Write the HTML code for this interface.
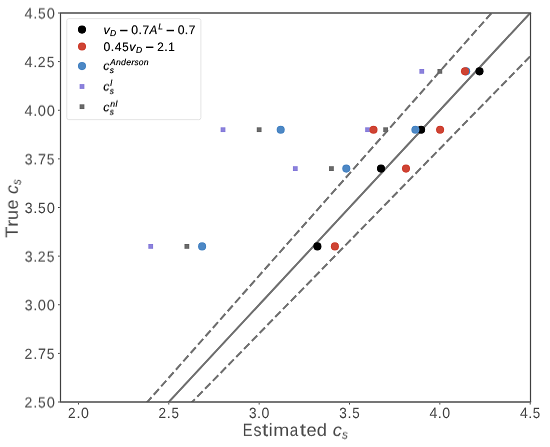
<!DOCTYPE html>
<html><head><meta charset="utf-8"><style>
html,body{margin:0;padding:0;background:#fff;width:550px;height:447px;overflow:hidden}
svg{display:block}
text{font-family:"Liberation Sans", sans-serif;text-rendering:geometricPrecision}
</style></head><body>
<svg width="550" height="447" viewBox="0 0 550 447">
<rect width="550" height="447" fill="#fff"/>
<defs><filter id="fy1" filterUnits="userSpaceOnUse" x="0" y="0" width="550" height="447" color-interpolation-filters="sRGB"><feOffset in="SourceGraphic" dy="1" result="b"/><feComposite in="SourceGraphic" in2="b" operator="arithmetic" k1="0" k2="0.875" k3="0.125" k4="0"/></filter>
<filter id="fy2" filterUnits="userSpaceOnUse" x="0" y="0" width="550" height="447" color-interpolation-filters="sRGB"><feOffset in="SourceGraphic" dy="1" result="b"/><feComposite in="SourceGraphic" in2="b" operator="arithmetic" k1="0" k2="0.750" k3="0.250" k4="0"/></filter>
<filter id="fy3" filterUnits="userSpaceOnUse" x="0" y="0" width="550" height="447" color-interpolation-filters="sRGB"><feOffset in="SourceGraphic" dy="1" result="b"/><feComposite in="SourceGraphic" in2="b" operator="arithmetic" k1="0" k2="0.625" k3="0.375" k4="0"/></filter>
<filter id="fy4" filterUnits="userSpaceOnUse" x="0" y="0" width="550" height="447" color-interpolation-filters="sRGB"><feOffset in="SourceGraphic" dy="1" result="b"/><feComposite in="SourceGraphic" in2="b" operator="arithmetic" k1="0" k2="0.500" k3="0.500" k4="0"/></filter>
<filter id="fy5" filterUnits="userSpaceOnUse" x="0" y="0" width="550" height="447" color-interpolation-filters="sRGB"><feOffset in="SourceGraphic" dy="1" result="b"/><feComposite in="SourceGraphic" in2="b" operator="arithmetic" k1="0" k2="0.375" k3="0.625" k4="0"/></filter>
<filter id="fy6" filterUnits="userSpaceOnUse" x="0" y="0" width="550" height="447" color-interpolation-filters="sRGB"><feOffset in="SourceGraphic" dy="1" result="b"/><feComposite in="SourceGraphic" in2="b" operator="arithmetic" k1="0" k2="0.250" k3="0.750" k4="0"/></filter>
<filter id="fy7" filterUnits="userSpaceOnUse" x="0" y="0" width="550" height="447" color-interpolation-filters="sRGB"><feOffset in="SourceGraphic" dy="1" result="b"/><feComposite in="SourceGraphic" in2="b" operator="arithmetic" k1="0" k2="0.125" k3="0.875" k4="0"/></filter><filter id="gid" filterUnits="userSpaceOnUse" x="0" y="0" width="550" height="447" color-interpolation-filters="sRGB"><feConvolveMatrix order="3" kernelMatrix="0 -0.08 0 -0.08 1.32 -0.08 0 -0.08 0" divisor="1" edgeMode="duplicate" preserveAlpha="true"/></filter></defs>
<g filter="url(#gid)"><rect width="550" height="447" fill="#fff"/>
<defs><clipPath id="ax"><rect x="60.38" y="13.00" width="469.82" height="389.00"/></clipPath></defs>
<g clip-path="url(#ax)" fill="none" stroke="#777777" stroke-width="2.103">
<line x1="78.45" y1="499.25" x2="620.55" y2="-84.25"/>
<line x1="-289.48" y1="895.70" x2="597.00" y2="-106.19" stroke-dasharray="7.783 3.365"/>
<line x1="-270.41" y1="875.02" x2="664.93" y2="-81.41" stroke-dasharray="7.783 3.365"/>
</g>
<rect x="148.33" y="244.00" width="4.8" height="4.8" fill="#8C82DC"/>
<rect x="220.61" y="127.30" width="4.8" height="4.8" fill="#8C82DC"/>
<rect x="292.89" y="166.20" width="4.8" height="4.8" fill="#8C82DC"/>
<rect x="365.17" y="127.30" width="4.8" height="4.8" fill="#8C82DC"/>
<rect x="419.38" y="68.95" width="4.8" height="4.8" fill="#8C82DC"/>
<rect x="184.47" y="244.00" width="4.8" height="4.8" fill="#6B6B6B"/>
<rect x="256.75" y="127.30" width="4.8" height="4.8" fill="#6B6B6B"/>
<rect x="329.03" y="166.20" width="4.8" height="4.8" fill="#6B6B6B"/>
<rect x="383.24" y="127.30" width="4.8" height="4.8" fill="#6B6B6B"/>
<rect x="437.45" y="68.95" width="4.8" height="4.8" fill="#6B6B6B"/>
<circle cx="317.40" cy="246.40" r="4.05" fill="#000000"/>
<circle cx="381.00" cy="168.60" r="4.05" fill="#000000"/>
<circle cx="421.10" cy="129.70" r="4.05" fill="#000000"/>
<circle cx="479.50" cy="71.35" r="4.05" fill="#000000"/>
<circle cx="202.10" cy="246.40" r="4.05" fill="#4D88C5"/>
<circle cx="280.70" cy="129.70" r="4.05" fill="#4D88C5"/>
<circle cx="346.30" cy="168.60" r="4.05" fill="#4D88C5"/>
<circle cx="415.40" cy="129.70" r="4.05" fill="#4D88C5"/>
<circle cx="466.20" cy="71.35" r="4.05" fill="#4D88C5"/>
<circle cx="334.90" cy="246.40" r="4.05" fill="#CF4434"/>
<circle cx="406.00" cy="168.60" r="4.05" fill="#CF4434"/>
<circle cx="373.50" cy="129.70" r="4.05" fill="#CF4434"/>
<circle cx="440.10" cy="129.70" r="4.05" fill="#CF4434"/>
<circle cx="465.00" cy="71.35" r="4.05" fill="#CF4434"/>
<path d="M60.5 13.0V402.0M530.5 13.0V402.0" stroke="#555555" stroke-width="1.3" fill="none"/>
<path d="M59.85 13.0H531.15M59.85 402.0H531.15" stroke="#555555" stroke-width="1.5" fill="none"/>
<line x1="78.45" y1="402.75" x2="78.45" y2="404.55" stroke="#555555" stroke-width="1.0"/>
<line x1="168.80" y1="402.75" x2="168.80" y2="404.55" stroke="#555555" stroke-width="1.0"/>
<line x1="259.15" y1="402.75" x2="259.15" y2="404.55" stroke="#555555" stroke-width="1.0"/>
<line x1="349.50" y1="402.75" x2="349.50" y2="404.55" stroke="#555555" stroke-width="1.0"/>
<line x1="439.85" y1="402.75" x2="439.85" y2="404.55" stroke="#555555" stroke-width="1.0"/>
<line x1="530.20" y1="402.75" x2="530.20" y2="404.55" stroke="#555555" stroke-width="1.0"/>
<line x1="58.05" y1="402.00" x2="59.85" y2="402.00" stroke="#555555" stroke-width="1.0"/>
<line x1="58.05" y1="353.38" x2="59.85" y2="353.38" stroke="#555555" stroke-width="1.0"/>
<line x1="58.05" y1="304.75" x2="59.85" y2="304.75" stroke="#555555" stroke-width="1.0"/>
<line x1="58.05" y1="256.12" x2="59.85" y2="256.12" stroke="#555555" stroke-width="1.0"/>
<line x1="58.05" y1="207.50" x2="59.85" y2="207.50" stroke="#555555" stroke-width="1.0"/>
<line x1="58.05" y1="158.88" x2="59.85" y2="158.88" stroke="#555555" stroke-width="1.0"/>
<line x1="58.05" y1="110.25" x2="59.85" y2="110.25" stroke="#555555" stroke-width="1.0"/>
<line x1="58.05" y1="61.62" x2="59.85" y2="61.62" stroke="#555555" stroke-width="1.0"/>
<line x1="58.05" y1="13.00" x2="59.85" y2="13.00" stroke="#555555" stroke-width="1.0"/>
<g fill="#555555" stroke="#555555" stroke-width="0.05">
<text x="68.08" y="418" font-size="14.79" textLength="7.58" lengthAdjust="spacingAndGlyphs">2</text>
<text x="76.42" y="418" font-size="14.72" textLength="4.02" lengthAdjust="spacingAndGlyphs">.</text>
<text x="80.88" y="418" font-size="14.87" textLength="7.88" lengthAdjust="spacingAndGlyphs">0</text>
<text x="158.43" y="418" font-size="14.79" textLength="7.58" lengthAdjust="spacingAndGlyphs">2</text>
<text x="166.77" y="418" font-size="14.72" textLength="4.02" lengthAdjust="spacingAndGlyphs">.</text>
<text x="171.44" y="418" font-size="14.83" textLength="7.42" lengthAdjust="spacingAndGlyphs">5</text>
<text x="248.99" y="418" font-size="14.87" textLength="7.53" lengthAdjust="spacingAndGlyphs">3</text>
<text x="257.12" y="418" font-size="14.72" textLength="4.02" lengthAdjust="spacingAndGlyphs">.</text>
<text x="261.58" y="418" font-size="14.87" textLength="7.88" lengthAdjust="spacingAndGlyphs">0</text>
<text x="339.34" y="418" font-size="14.87" textLength="7.53" lengthAdjust="spacingAndGlyphs">3</text>
<text x="347.47" y="418" font-size="14.72" textLength="4.02" lengthAdjust="spacingAndGlyphs">.</text>
<text x="352.14" y="418" font-size="14.83" textLength="7.42" lengthAdjust="spacingAndGlyphs">5</text>
<text x="429.55" y="418" font-size="14.75" textLength="7.82" lengthAdjust="spacingAndGlyphs">4</text>
<text x="437.82" y="418" font-size="14.72" textLength="4.02" lengthAdjust="spacingAndGlyphs">.</text>
<text x="442.28" y="418" font-size="14.87" textLength="7.88" lengthAdjust="spacingAndGlyphs">0</text>
<text x="519.90" y="418" font-size="14.75" textLength="7.82" lengthAdjust="spacingAndGlyphs">4</text>
<text x="528.17" y="418" font-size="14.72" textLength="4.02" lengthAdjust="spacingAndGlyphs">.</text>
<text x="532.84" y="418" font-size="14.83" textLength="7.42" lengthAdjust="spacingAndGlyphs">5</text>
<text x="24.54" y="407" font-size="14.79" textLength="7.85" lengthAdjust="spacingAndGlyphs" filter="url(#fy4)">2</text>
<text x="33.18" y="407" font-size="14.72" textLength="4.16" lengthAdjust="spacingAndGlyphs" filter="url(#fy4)">.</text>
<text x="38.01" y="407" font-size="14.83" textLength="7.68" lengthAdjust="spacingAndGlyphs" filter="url(#fy4)">5</text>
<text x="46.64" y="407" font-size="14.87" textLength="8.17" lengthAdjust="spacingAndGlyphs" filter="url(#fy4)">0</text>
<text x="24.54" y="358" font-size="14.79" textLength="7.85" lengthAdjust="spacingAndGlyphs" filter="url(#fy7)">2</text>
<text x="33.18" y="358" font-size="14.72" textLength="4.16" lengthAdjust="spacingAndGlyphs" filter="url(#fy7)">.</text>
<text x="37.88" y="358" font-size="14.75" textLength="7.98" lengthAdjust="spacingAndGlyphs" filter="url(#fy7)">7</text>
<text x="46.85" y="358" font-size="14.83" textLength="7.68" lengthAdjust="spacingAndGlyphs" filter="url(#fy7)">5</text>
<text x="24.75" y="310" font-size="14.87" textLength="7.81" lengthAdjust="spacingAndGlyphs" filter="url(#fy2)">3</text>
<text x="33.18" y="310" font-size="14.72" textLength="4.16" lengthAdjust="spacingAndGlyphs" filter="url(#fy2)">.</text>
<text x="37.80" y="310" font-size="14.87" textLength="8.17" lengthAdjust="spacingAndGlyphs" filter="url(#fy2)">0</text>
<text x="46.64" y="310" font-size="14.87" textLength="8.17" lengthAdjust="spacingAndGlyphs" filter="url(#fy2)">0</text>
<text x="24.75" y="261" font-size="14.87" textLength="7.81" lengthAdjust="spacingAndGlyphs" filter="url(#fy5)">3</text>
<text x="33.18" y="261" font-size="14.72" textLength="4.16" lengthAdjust="spacingAndGlyphs" filter="url(#fy5)">.</text>
<text x="37.79" y="261" font-size="14.79" textLength="7.85" lengthAdjust="spacingAndGlyphs" filter="url(#fy5)">2</text>
<text x="46.85" y="261" font-size="14.83" textLength="7.68" lengthAdjust="spacingAndGlyphs" filter="url(#fy5)">5</text>
<text x="24.75" y="213" font-size="14.87" textLength="7.81" lengthAdjust="spacingAndGlyphs">3</text>
<text x="33.18" y="213" font-size="14.72" textLength="4.16" lengthAdjust="spacingAndGlyphs">.</text>
<text x="38.01" y="213" font-size="14.83" textLength="7.68" lengthAdjust="spacingAndGlyphs">5</text>
<text x="46.64" y="213" font-size="14.87" textLength="8.17" lengthAdjust="spacingAndGlyphs">0</text>
<text x="24.75" y="164" font-size="14.87" textLength="7.81" lengthAdjust="spacingAndGlyphs" filter="url(#fy3)">3</text>
<text x="33.18" y="164" font-size="14.72" textLength="4.16" lengthAdjust="spacingAndGlyphs" filter="url(#fy3)">.</text>
<text x="37.88" y="164" font-size="14.75" textLength="7.98" lengthAdjust="spacingAndGlyphs" filter="url(#fy3)">7</text>
<text x="46.85" y="164" font-size="14.83" textLength="7.68" lengthAdjust="spacingAndGlyphs" filter="url(#fy3)">5</text>
<text x="24.60" y="115" font-size="14.75" textLength="8.11" lengthAdjust="spacingAndGlyphs" filter="url(#fy6)">4</text>
<text x="33.18" y="115" font-size="14.72" textLength="4.16" lengthAdjust="spacingAndGlyphs" filter="url(#fy6)">.</text>
<text x="37.80" y="115" font-size="14.87" textLength="8.17" lengthAdjust="spacingAndGlyphs" filter="url(#fy6)">0</text>
<text x="46.64" y="115" font-size="14.87" textLength="8.17" lengthAdjust="spacingAndGlyphs" filter="url(#fy6)">0</text>
<text x="24.60" y="67" font-size="14.75" textLength="8.11" lengthAdjust="spacingAndGlyphs" filter="url(#fy1)">4</text>
<text x="33.18" y="67" font-size="14.72" textLength="4.16" lengthAdjust="spacingAndGlyphs" filter="url(#fy1)">.</text>
<text x="37.79" y="67" font-size="14.79" textLength="7.85" lengthAdjust="spacingAndGlyphs" filter="url(#fy1)">2</text>
<text x="46.85" y="67" font-size="14.83" textLength="7.68" lengthAdjust="spacingAndGlyphs" filter="url(#fy1)">5</text>
<text x="24.60" y="18" font-size="14.75" textLength="8.11" lengthAdjust="spacingAndGlyphs" filter="url(#fy4)">4</text>
<text x="33.18" y="18" font-size="14.72" textLength="4.16" lengthAdjust="spacingAndGlyphs" filter="url(#fy4)">.</text>
<text x="38.01" y="18" font-size="14.83" textLength="7.68" lengthAdjust="spacingAndGlyphs" filter="url(#fy4)">5</text>
<text x="46.64" y="18" font-size="14.87" textLength="8.17" lengthAdjust="spacingAndGlyphs" filter="url(#fy4)">0</text>
</g>
<g fill="#555555" stroke="#555555" stroke-width="0.05">
<text x="242.86" y="435" font-size="17.70" textLength="9.73" lengthAdjust="spacingAndGlyphs" filter="url(#fy7)">E</text>
<text x="253.52" y="435" font-size="17.50" textLength="8.04" lengthAdjust="spacingAndGlyphs" filter="url(#fy7)">s</text>
<text x="261.91" y="435" font-size="17.94" textLength="6.24" lengthAdjust="spacingAndGlyphs" filter="url(#fy7)">t</text>
<text x="268.80" y="435" font-size="17.47" textLength="3.85" lengthAdjust="spacingAndGlyphs" filter="url(#fy7)">i</text>
<text x="273.26" y="435" font-size="17.36" textLength="16.03" lengthAdjust="spacingAndGlyphs" filter="url(#fy7)">m</text>
<text x="289.77" y="435" font-size="17.50" textLength="8.45" lengthAdjust="spacingAndGlyphs" filter="url(#fy7)">a</text>
<text x="299.83" y="435" font-size="17.94" textLength="6.24" lengthAdjust="spacingAndGlyphs" filter="url(#fy7)">t</text>
<text x="306.44" y="435" font-size="17.50" textLength="10.11" lengthAdjust="spacingAndGlyphs" filter="url(#fy7)">e</text>
<text x="316.77" y="435" font-size="17.57" textLength="10.20" lengthAdjust="spacingAndGlyphs" filter="url(#fy7)">d</text>
<text x="332.80" y="435" font-size="17.50" font-style="italic" textLength="9.07" lengthAdjust="spacingAndGlyphs" filter="url(#fy7)">c</text>
<text x="341.98" y="438" font-size="12.25" font-style="italic" textLength="6.02" lengthAdjust="spacingAndGlyphs" filter="url(#fy5)">s</text>
<g transform="translate(0,447) rotate(-90)">
<text x="209.35" y="17" font-size="17.70" textLength="11.13" lengthAdjust="spacingAndGlyphs" filter="url(#fy6)">T</text>
<text x="220.02" y="17" font-size="17.36" textLength="7.10" lengthAdjust="spacingAndGlyphs" filter="url(#fy6)">r</text>
<text x="227.04" y="17" font-size="17.44" textLength="9.98" lengthAdjust="spacingAndGlyphs" filter="url(#fy6)">u</text>
<text x="237.48" y="17" font-size="17.50" textLength="10.01" lengthAdjust="spacingAndGlyphs" filter="url(#fy6)">e</text>
<text x="253.01" y="17" font-size="17.50" font-style="italic" textLength="8.97" lengthAdjust="spacingAndGlyphs" filter="url(#fy6)">c</text>
<text x="262.10" y="20" font-size="12.25" font-style="italic" textLength="5.96" lengthAdjust="spacingAndGlyphs" filter="url(#fy5)">s</text>
</g>
</g>
<rect x="66.8" y="18.7" width="134.1" height="101.0" rx="2" fill="#ffffff" fill-opacity="0.8" stroke="#E6E6E6" stroke-width="1"/>
<circle cx="82.0" cy="29.6" r="4.05" fill="#000"/>
<circle cx="82.0" cy="46.5" r="4.05" fill="#CF4434"/>
<circle cx="82.0" cy="66.1" r="4.05" fill="#4D88C5"/>
<rect x="79.6" y="84.1" width="4.8" height="4.8" fill="#8C82DC"/>
<rect x="79.6" y="104.3" width="4.8" height="4.8" fill="#6B6B6B"/>
<g fill="#000" stroke="#000" stroke-width="0.15">
<text x="103.40" y="34" font-size="12.01" font-style="italic" textLength="6.23" lengthAdjust="spacingAndGlyphs" filter="url(#fy1)">v</text>
<text x="110.10" y="36" font-size="8.60" font-style="italic" textLength="6.16" lengthAdjust="spacingAndGlyphs" filter="url(#fy1)">D</text>
<rect x="120.20" y="29.77" width="7.26" height="1.50" stroke="none"/>
<text x="131.26" y="34" font-size="12.39" textLength="6.81" lengthAdjust="spacingAndGlyphs" filter="url(#fy1)">0</text>
<text x="138.48" y="34" font-size="12.27" textLength="3.47" lengthAdjust="spacingAndGlyphs" filter="url(#fy1)">.</text>
<text x="142.41" y="34" font-size="12.29" textLength="6.65" lengthAdjust="spacingAndGlyphs" filter="url(#fy1)">7</text>
<text x="149.43" y="34" font-size="12.29" font-style="italic" textLength="7.81" lengthAdjust="spacingAndGlyphs" filter="url(#fy1)">A</text>
<text x="158.25" y="29" font-size="8.60" font-style="italic" textLength="4.65" lengthAdjust="spacingAndGlyphs" filter="url(#fy4)">L</text>
<rect x="166.62" y="29.77" width="7.26" height="1.50" stroke="none"/>
<text x="177.67" y="34" font-size="12.39" textLength="6.81" lengthAdjust="spacingAndGlyphs" filter="url(#fy1)">0</text>
<text x="184.89" y="34" font-size="12.27" textLength="3.47" lengthAdjust="spacingAndGlyphs" filter="url(#fy1)">.</text>
<text x="188.83" y="34" font-size="12.29" textLength="6.65" lengthAdjust="spacingAndGlyphs" filter="url(#fy1)">7</text>
<text x="103.51" y="51" font-size="12.39" textLength="6.81" lengthAdjust="spacingAndGlyphs">0</text>
<text x="110.74" y="51" font-size="12.27" textLength="3.47" lengthAdjust="spacingAndGlyphs">.</text>
<text x="114.65" y="51" font-size="12.29" textLength="6.76" lengthAdjust="spacingAndGlyphs">4</text>
<text x="122.17" y="51" font-size="12.36" textLength="6.40" lengthAdjust="spacingAndGlyphs">5</text>
<text x="129.29" y="51" font-size="12.01" font-style="italic" textLength="6.23" lengthAdjust="spacingAndGlyphs">v</text>
<text x="135.98" y="52" font-size="8.60" font-style="italic" textLength="6.16" lengthAdjust="spacingAndGlyphs" filter="url(#fy7)">D</text>
<rect x="146.09" y="46.56" width="7.26" height="1.50" stroke="none"/>
<text x="157.13" y="51" font-size="12.32" textLength="6.54" lengthAdjust="spacingAndGlyphs">2</text>
<text x="164.36" y="51" font-size="12.27" textLength="3.47" lengthAdjust="spacingAndGlyphs">.</text>
<text x="168.37" y="51" font-size="12.29" textLength="6.47" lengthAdjust="spacingAndGlyphs">1</text>
<text x="103.37" y="69" font-size="12.16" font-style="italic" textLength="6.23" lengthAdjust="spacingAndGlyphs" filter="url(#fy6)">c</text>
<text x="110.16" y="65" font-size="8.60" font-style="italic" textLength="5.47" lengthAdjust="spacingAndGlyphs" filter="url(#fy1)">A</text>
<text x="115.90" y="65" font-size="8.44" font-style="italic" textLength="4.85" lengthAdjust="spacingAndGlyphs" filter="url(#fy1)">n</text>
<text x="121.00" y="65" font-size="8.54" font-style="italic" textLength="4.87" lengthAdjust="spacingAndGlyphs" filter="url(#fy1)">d</text>
<text x="126.17" y="65" font-size="8.51" font-style="italic" textLength="4.85" lengthAdjust="spacingAndGlyphs" filter="url(#fy1)">e</text>
<text x="131.21" y="65" font-size="8.44" font-style="italic" textLength="3.30" lengthAdjust="spacingAndGlyphs" filter="url(#fy1)">r</text>
<text x="134.52" y="65" font-size="8.51" font-style="italic" textLength="4.14" lengthAdjust="spacingAndGlyphs" filter="url(#fy1)">s</text>
<text x="138.77" y="65" font-size="8.51" font-style="italic" textLength="4.76" lengthAdjust="spacingAndGlyphs" filter="url(#fy1)">o</text>
<text x="143.79" y="65" font-size="8.44" font-style="italic" textLength="4.85" lengthAdjust="spacingAndGlyphs" filter="url(#fy1)">n</text>
<text x="109.72" y="73" font-size="8.51" font-style="italic" textLength="4.14" lengthAdjust="spacingAndGlyphs">s</text>
<text x="103.37" y="90" font-size="12.16" font-style="italic" textLength="6.23" lengthAdjust="spacingAndGlyphs" filter="url(#fy4)">c</text>
<text x="110.33" y="85" font-size="8.49" font-style="italic" textLength="1.88" lengthAdjust="spacingAndGlyphs" filter="url(#fy7)">l</text>
<text x="109.72" y="93" font-size="8.51" font-style="italic" textLength="4.14" lengthAdjust="spacingAndGlyphs" filter="url(#fy6)">s</text>
<text x="103.37" y="111" font-size="12.16" font-style="italic" textLength="6.23" lengthAdjust="spacingAndGlyphs" filter="url(#fy2)">c</text>
<text x="110.33" y="106" font-size="8.44" font-style="italic" textLength="4.85" lengthAdjust="spacingAndGlyphs" filter="url(#fy6)">n</text>
<text x="115.49" y="106" font-size="8.49" font-style="italic" textLength="1.88" lengthAdjust="spacingAndGlyphs" filter="url(#fy6)">l</text>
<text x="109.72" y="114" font-size="8.51" font-style="italic" textLength="4.14" lengthAdjust="spacingAndGlyphs" filter="url(#fy5)">s</text>
</g>
</g>
</svg>
</body></html>
